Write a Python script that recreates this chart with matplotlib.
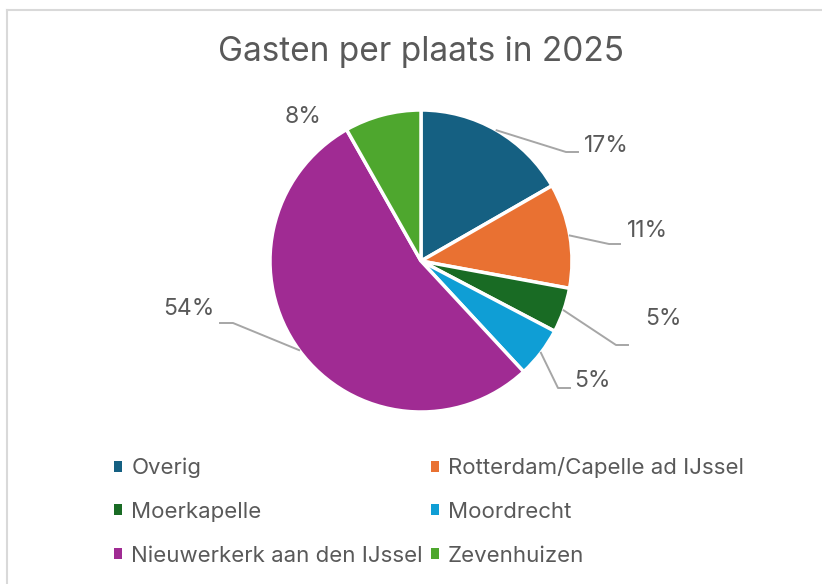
import numpy as np
import matplotlib.pyplot as plt
from matplotlib.patches import Patch
from matplotlib.lines import Line2D

plt.rcParams['font.family'] = ['Inter', 'DejaVu Sans']

places = ['Overig', 'Rotterdam/Capelle ad IJssel', 'Moerkapelle', 'Moordrecht',
          'Nieuwerkerk aan den IJssel', 'Zevenhuizen']
shares = [16.7, 11.2, 4.8, 5.4, 53.7, 8.2]
colors = ['#156082', '#E97132', '#196B24', '#0F9ED5', '#A02B93', '#4EA72E']
title = 'Gasten per plaats in 2025'

W, H = 822, 584
cx, cy, R = 421, 261, 151
txt_col = '#595959'
line_col = '#A6A6A6'

# label layout in pixels: text x, text y, alignment, leader elbow x, elbow y, leader end x
label_layout = [
    (584, 146, 'left', 566, 152, 578),
    (627, 231, 'left', 609, 244, 620),
    (645, 319, 'left', 616, 345, 628),
    (574, 381, 'left', 558, 388, 570),
    (215, 309, 'right', 233, 323, 220),
    (303, 117, 'center', None, None, None),
]

def px2d(px, py):
    return (px - cx) / R, (cy - py) / R

fig = plt.figure(figsize=(W / 100, H / 100), dpi=100)
ax = fig.add_axes([(cx - R) / W, (H - cy - R) / H, 2 * R / W, 2 * R / H])
wedges, _ = ax.pie(shares, colors=colors, startangle=90, counterclock=False,
                   radius=1, wedgeprops=dict(edgecolor='white', linewidth=2.5))
ax.set_xlim(-1, 1)
ax.set_ylim(-1, 1)
ax.axis('off')

for w, v, lay in zip(wedges, shares, label_layout):
    tx, ty, ha, ex, ey, endx = lay
    if ex is not None:
        mid = np.deg2rad((w.theta1 + w.theta2) / 2)
        x0, y0 = np.cos(mid), np.sin(mid)
        x1, y1 = px2d(ex, ey)
        x2, _ = px2d(endx, ey)
        ax.plot([x0, x1, x2], [y0, y1, y1], color=line_col, lw=1.4, clip_on=False)
    x, y = px2d(tx, ty)
    ax.text(x, y, f'{round(v):.0f}%', ha=ha, va='center', fontsize=16.5,
            color=txt_col, clip_on=False)

fig.text(cx / W, 1 - 52 / H, title, ha='center', va='center', fontsize=24,
         color=txt_col)

order = [0, 2, 4, 1, 3, 5]
handles = [Patch(facecolor=colors[i], edgecolor='none') for i in order]
fig.legend(handles, [places[i] for i in order], ncol=2, loc='upper left',
           bbox_to_anchor=(94 / W, 1 - 437 / H), frameon=False, fontsize=16,
           handlelength=0.38, handleheight=0.38, handletextpad=0.4,
           columnspacing=0.35, labelspacing=1.07, labelcolor=txt_col)

# chart area border (only top and left visible)
fig.add_artist(Line2D([7 / W, 7 / W], [0, 1 - 10 / H], color='#D9D9D9', lw=1.5))
fig.add_artist(Line2D([7 / W, 1], [1 - 10 / H, 1 - 10 / H], color='#D9D9D9', lw=1.5))

fig.savefig('out.png', dpi=100, facecolor='white')
